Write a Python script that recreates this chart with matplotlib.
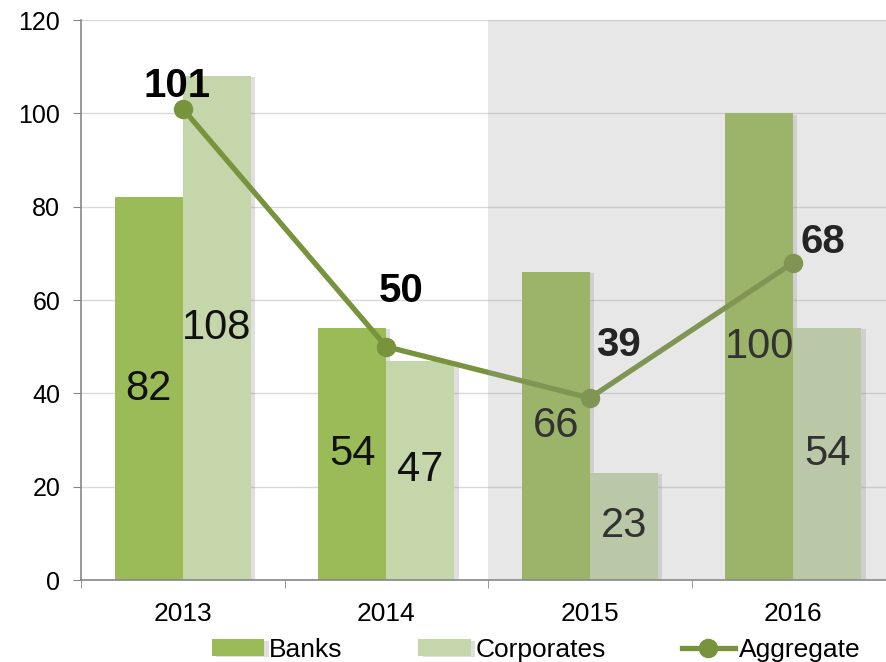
import numpy as np
import matplotlib
matplotlib.use('Agg')
import matplotlib.pyplot as plt
import matplotlib.patheffects as pe

plt.rcParams['font.family'] = ['Liberation Sans', 'DejaVu Sans']

# dane
years = ['2013', '2014', '2015', '2016']
banks = [82, 54, 66, 100]
corporates = [108, 47, 23, 54]
aggregate = [101, 50, 39, 68]
# przesunięcia etykiet linii (w punktach)
agg_offsets = [(-4, 16), (11, 40), (21, 38), (21, 15)]

banks_color = '#9BBB59'
corp_color = '#C4D6AA'
line_color = '#77933C'
grid_color = '#D9D9D9'
axis_color = '#868686'

fig = plt.figure(figsize=(8.86, 6.62), dpi=100)
ax = fig.add_axes([81 / 886, 82 / 662, 814 / 886, 560 / 662])

x = np.arange(len(years))
w = 0.335
shadow = [pe.SimplePatchShadow(offset=(3, -1), shadow_rgbFace='#808080', alpha=0.25), pe.Normal()]

b1 = ax.bar(x - w / 2, banks, w, color=banks_color, label='Banks', zorder=2)
b2 = ax.bar(x + w / 2, corporates, w, color=corp_color, label='Corporates', zorder=2)
for r in list(b1) + list(b2):
    r.set_path_effects(shadow)

# etykiety w słupkach
for xi, v in zip(x, banks):
    ax.text(xi - w / 2, v / 2, str(v), ha='center', va='center', fontsize=30, color='#111111', zorder=4)
for xi, v in zip(x, corporates):
    ax.text(xi + w / 2, v / 2, str(v), ha='center', va='center', fontsize=30, color='#111111', zorder=4)

ax.plot(x, aggregate, color=line_color, lw=3.8, marker='o', ms=13, label='Aggregate', zorder=5)
for xi, v, off in zip(x, aggregate, agg_offsets):
    ax.annotate(str(v), (xi, v), xytext=off, textcoords='offset points', ha='center', va='center',
                fontsize=29, fontweight='bold', color='black', zorder=6)

# szare tło dla prognozy
ax.axvspan(1.5, 3.6, ymin=0, ymax=1, color=(158 / 255, 158 / 255, 158 / 255), alpha=0.24, lw=0, zorder=7)

ax.set_xlim(-0.5, 3.5)
ax.set_ylim(0, 120)
ax.set_yticks(range(0, 121, 20))
ax.yaxis.grid(True, color=grid_color, lw=1, zorder=0)
ax.set_axisbelow(True)

ax.set_xticks(x)
ax.set_xticklabels(years)
ax.set_xticks([-0.5, 0.5, 1.5, 2.5, 3.5], minor=True)
ax.tick_params(axis='x', which='major', length=0, labelsize=19, pad=16)
ax.tick_params(axis='x', which='minor', length=6, color=axis_color, direction='out')
ax.tick_params(axis='y', length=6, color=axis_color, labelsize=18, pad=9)

for s in ['top', 'right']:
    ax.spines[s].set_visible(False)
for s in ['left', 'bottom']:
    ax.spines[s].set_color(axis_color)
    ax.spines[s].set_linewidth(1.2)

fig.legend(handles=[b1, b2, ax.lines[0]], labels=['Banks', 'Corporates', 'Aggregate'],
           loc='center', bbox_to_anchor=(0.605, 12 / 662), ncol=3, frameon=False,
           fontsize=19, handlelength=2.0, handleheight=0.6, columnspacing=2.9,
           handletextpad=0.15, borderpad=0)

fig.savefig('out.png', dpi=100)
